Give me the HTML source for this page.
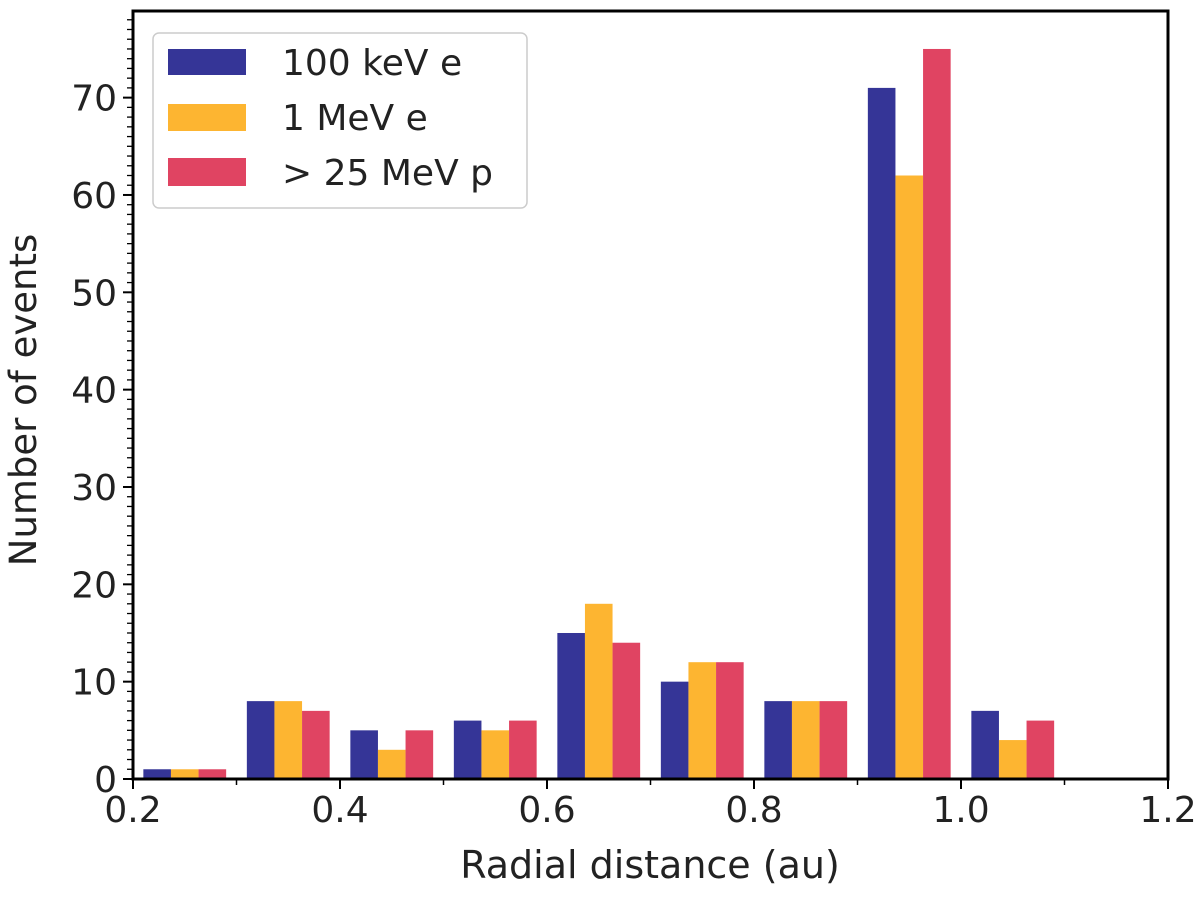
<!DOCTYPE html>
<html><head><meta charset="utf-8"><style>
body{margin:0;background:#fff}
svg text{font-family:"DejaVu Sans","Liberation Sans",sans-serif;fill:#222}
</style></head><body>
<svg id="chart" width="1200" height="897" xmlns="http://www.w3.org/2000/svg">
<g id="bars"></g>
<g id="axes"></g>
<text x="650" y="878" font-size="38" text-anchor="middle">Radial distance (au)</text>
<text transform="translate(36,400) rotate(-90)" font-size="37" text-anchor="middle">Number of events</text>
<g>
<rect x="153" y="33" width="374" height="175" rx="6" fill="#fff" stroke="#ccc" stroke-width="1.5"/>
<g><rect x="168" y="49" width="78" height="26" fill="#353597"/><text x="282" y="75" font-size="36">100 keV e</text></g>
<g><rect x="168" y="104" width="78" height="27" fill="#fdb531"/><text x="282" y="130" font-size="36">1 MeV e</text></g>
<g><rect x="168" y="158" width="78" height="28" fill="#e04462"/><text x="282" y="185" font-size="36">&gt; 25 MeV p</text></g>
</g>
</svg>
<script>
const binStarts=[0.2,0.3,0.4,0.5,0.6,0.7,0.8,0.9,1.0];
const kev100=[1,8,5,6,15,10,8,71,7];
const mev1=[1,8,3,5,18,12,8,62,4];
const mev25p=[1,7,5,6,14,12,8,75,6];
const xTicks=[0.2,0.4,0.6,0.8,1.0,1.2];
const yTicks=[0,10,20,30,40,50,60,70];
const NS="http://www.w3.org/2000/svg";
const X0=133,X1=1168,Y0=779,Ytop=11,xmin=0.2,xmax=1.2,ymax=78.9;
const sx=v=>X0+(v-xmin)/(xmax-xmin)*(X1-X0);
const sy=v=>Y0-v/ymax*(Y0-Ytop);
function mk(tag,attrs,parent){const e=document.createElementNS(NS,tag);for(const k in attrs)e.setAttribute(k,attrs[k]);parent.appendChild(e);return e;}
const bars=document.getElementById('bars'),axes=document.getElementById('axes');
const series=[[kev100,'#353597','100kev'],[mev1,'#fdb531','1mev'],[mev25p,'#e04462','25mev']];
const bw=0.1*0.8/3;
series.forEach((s,si)=>{s[0].forEach((v,i)=>{
 const x=binStarts[i]+0.01+si*bw;
 const r=mk('rect',{x:sx(x),y:sy(v),width:sx(x+bw)-sx(x),height:Y0-sy(v),fill:s[1]},bars);
 
 
});});
mk('rect',{x:X0,y:Ytop,width:X1-X0,height:Y0-Ytop,fill:'none',stroke:'#000','stroke-width':3},axes);
xTicks.forEach(t=>{const x=sx(t);mk('line',{x1:x,x2:x,y1:Y0,y2:Y0+10,stroke:'#000','stroke-width':2},axes);
 const tx=mk('text',{x:x,y:Y0+43,'font-size':36,'text-anchor':'middle'},axes);tx.textContent=t.toFixed(1);
 
 });
for(let t=0.3;t<1.2;t+=0.2){const x=sx(t);mk('line',{x1:x,x2:x,y1:Y0,y2:Y0+6,stroke:'#000','stroke-width':1.5},axes);}
yTicks.forEach(t=>{const y=sy(t);mk('line',{x1:X0-10,x2:X0,y1:y,y2:y,stroke:'#000','stroke-width':2},axes);
 const tx=mk('text',{x:X0-16,y:y+13,'font-size':36,'text-anchor':'end'},axes);tx.textContent=t;
 
 });
for(let t=1;t<ymax;t++){if(t%10===0)continue;const y=sy(t);mk('line',{x1:X0-6,x2:X0,y1:y,y2:y,stroke:'#000','stroke-width':1.3},axes);}
</script>
</body></html>
